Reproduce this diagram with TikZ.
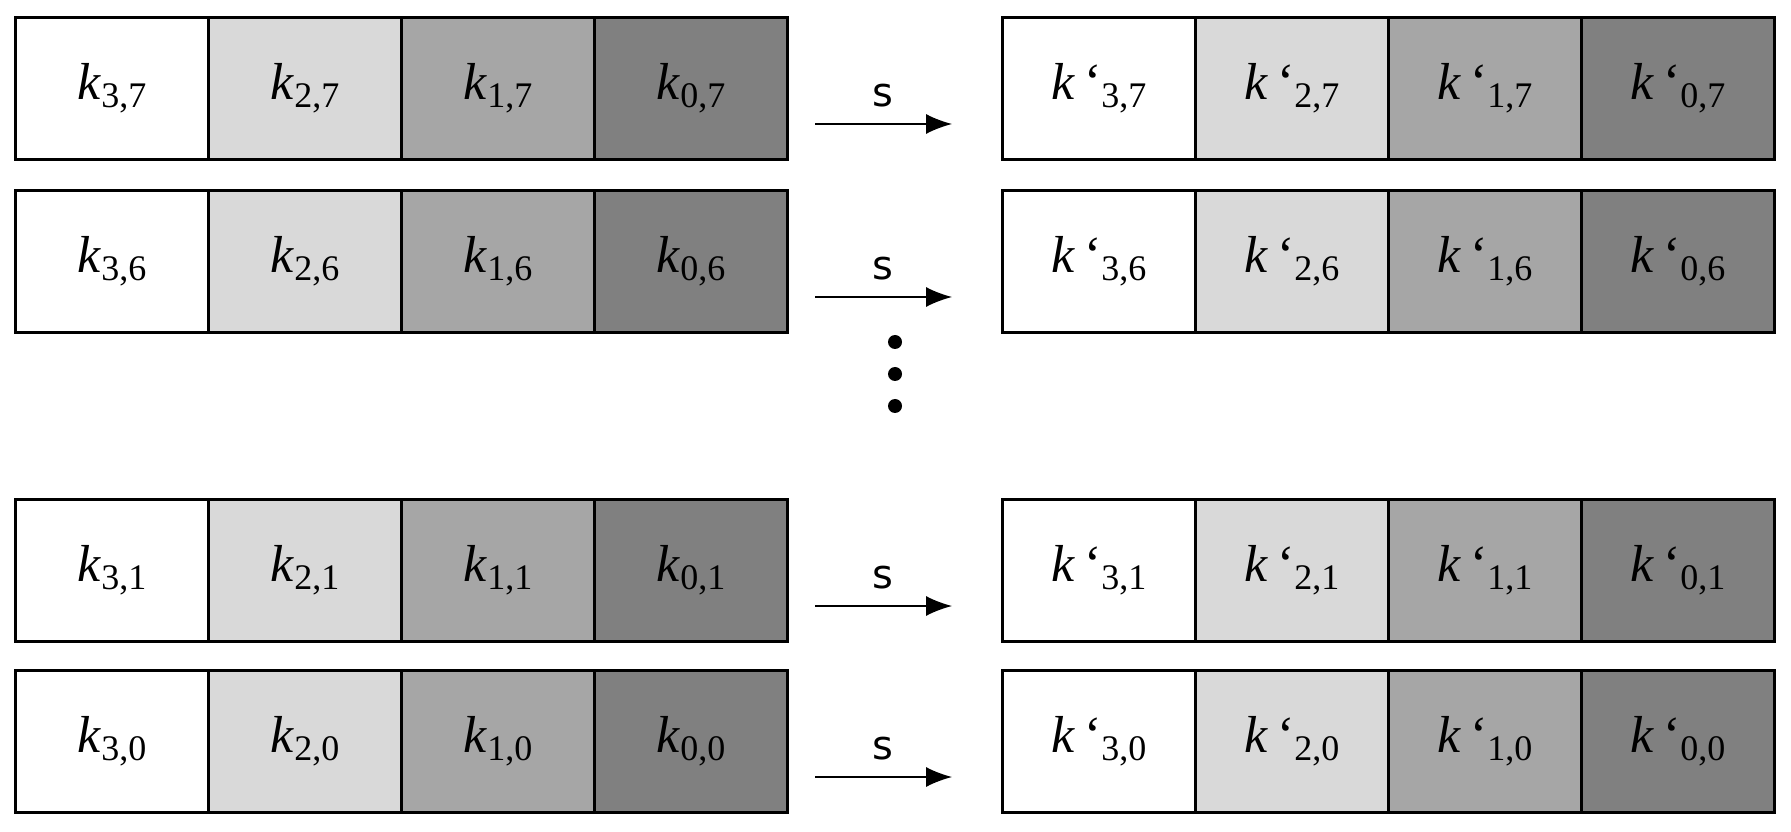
\documentclass[tikz,border=0pt]{standalone}
\usepackage{fontspec}
\usetikzlibrary{arrows.meta}
\setmainfont{Liberation Serif}
\newfontfamily\sansf{DejaVu Sans}
\newcommand{\ksub}[1]{\textit{k}\raisebox{-0.35ex}{\fontsize{36}{36}\selectfont #1}}
\newcommand{\kpsub}[1]{\textit{k}\,‘\raisebox{-0.35ex}{\fontsize{36}{36}\selectfont #1}}
\begin{document}
\begin{tikzpicture}[x=1pt,y=1pt,
  cell/.style={draw=black,line width=3pt,minimum width=193pt,minimum height=142pt,inner sep=0pt,font=\fontsize{52}{54}\selectfont,anchor=north west},
  c0/.style={cell,fill=white},c1/.style={cell,fill=black!15},c2/.style={cell,fill=black!35},c3/.style={cell,fill=black!50},
  arr/.style={line width=1.5pt,-{Latex[length=26pt,width=20pt]}},
  lbl/.style={font=\sansf\fontsize{40}{40}\selectfont,inner sep=0pt}]
\useasboundingbox (0,0) rectangle (1791,831);
\foreach \r/\yy/\j in {a/16/7,b/189/6,c/498/1,d/669/0}{
  \foreach \i/\xx/\st in {3/14/c0,2/207/c1,1/400/c2,0/593/c3}{
    \node[\st] (L\r\i) at (\xx,831-\yy) {\ksub{\i,\j}};
    \node[\st] (R\r\i) at (\xx+987,831-\yy) {\kpsub{\i,\j}};
  }
  \coordinate (s\r) at (815,831-\yy-108);
  \coordinate (e\r) at (952,831-\yy-108);
  \draw[arr] (s\r) -- (e\r);
  \node[lbl] (t\r) at (883,831-\yy-80) {s};
}
\foreach \yy [count=\n] in {342,374,406}{\fill (895,831-\yy) circle (7pt) coordinate (dot\n);}
\end{tikzpicture}
\end{document}
